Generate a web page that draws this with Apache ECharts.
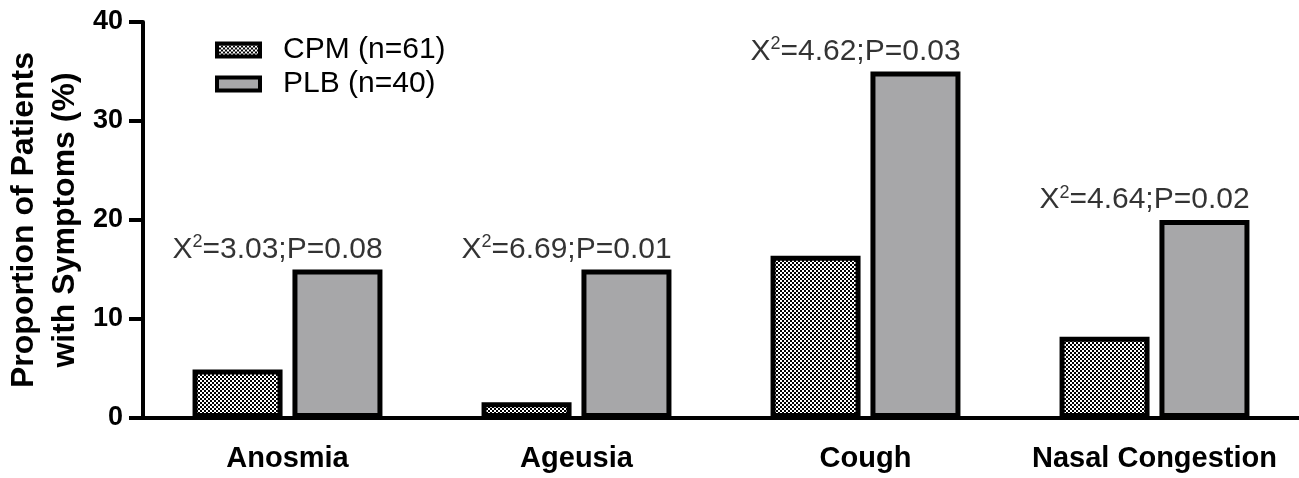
<!DOCTYPE html>
<html>
<head>
<meta charset="utf-8">
<script src="https://cdn.jsdelivr.net/npm/echarts@6/dist/echarts.min.js"></script>
<style>
html,body{margin:0;padding:0;background:#fff;}
#chart{width:1299px;height:478px;}
</style>
</head>
<body>
<div id="chart"></div>
<script>
var categories = ['Anosmia', 'Ageusia', 'Cough', 'Nasal Congestion'];
var cpmValues = [4.9, 1.6, 16.4, 8.2];
var plbValues = [15, 15, 35, 20];
var chiSq = ['3.03', '6.69', '4.62', '4.64'];
var pVals = ['0.08', '0.01', '0.03', '0.02'];
var seriesNames = ['CPM (n=61)', 'PLB (n=40)'];
var yTicks = [0, 10, 20, 30, 40];

var FONT = '"Liberation Sans", Arial, Helvetica, sans-serif';

// checkered pattern
var pc = document.createElement('canvas');
pc.width = 4; pc.height = 4;
var pctx = pc.getContext('2d');
pctx.fillStyle = '#000'; pctx.fillRect(0, 0, 4, 4);
pctx.fillStyle = '#fff';
pctx.fillRect(0, 0, 2, 2);
pctx.fillRect(2, 2, 2, 2);
var checker = { image: pc, repeat: 'repeat' };

var annotY = categories.map(function (c, i) { return Math.max(cpmValues[i], plbValues[i]); });

var chart = echarts.init(document.getElementById('chart'), null, { renderer: 'canvas' });
chart.setOption({
  animation: false,
  backgroundColor: '#fff',
  textStyle: { fontFamily: FONT },
  grid: { left: 143, right: 0, top: 22, bottom: 60, containLabel: false, outerBoundsMode: 'none' },
  legend: {
    orient: 'vertical',
    left: 210, top: 30,
    icon: 'rect',
    itemWidth: 43, itemHeight: 13,
    itemGap: 4,
    data: seriesNames,
    textStyle: { fontFamily: FONT, fontSize: 30, color: '#000', padding: [0, 0, 0, 18] },
    itemStyle: { borderWidth: 4, borderColor: '#000' }
  },
  xAxis: {
    type: 'category',
    data: categories,
    axisLine: { lineStyle: { color: '#000', width: 4 } },
    axisTick: { alignWithLabel: true, length: 13, lineStyle: { color: '#000', width: 4 } },
    axisLabel: { interval: 0, fontFamily: FONT, fontSize: 29, fontWeight: 'bold', color: '#000', margin: 26 }
  },
  yAxis: {
    type: 'value',
    min: 0, max: 40, interval: 10,
    name: 'Proportion of Patients\nwith Symptoms (%)',
    nameLocation: 'middle',
    nameRotate: 90,
    nameGap: 57,
    nameMoveOverlap: false,
    nameTextStyle: { fontFamily: FONT, fontSize: 32, fontWeight: 'bold', color: '#000', lineHeight: 41 },
    splitLine: { show: false },
    axisLine: { show: true, lineStyle: { color: '#000', width: 4 } },
    axisTick: { show: true, length: 14, lineStyle: { color: '#000', width: 4 } },
    axisLabel: { align: 'right', verticalAlign: 'middle', fontFamily: FONT, fontSize: 27, fontWeight: 'bold', color: '#000', margin: 20,
      formatter: function (v) { return yTicks.indexOf(v) >= 0 ? String(v) : ''; } }
  },
  series: [
    {
      name: seriesNames[0], type: 'bar', data: cpmValues,
      barWidth: 90, barGap: '11%',
      itemStyle: { color: checker, borderColor: '#000', borderWidth: 5 }
    },
    {
      name: seriesNames[1], type: 'bar', data: plbValues,
      barWidth: 90,
      itemStyle: { color: '#a7a7a9', borderColor: '#000', borderWidth: 5 }
    },
    {
      name: 'annot', type: 'scatter', symbolSize: 0, silent: true,
      data: categories.map(function (c, i) { return [c, annotY[i]]; }),
      label: {
        show: true, position: 'top', distance: 4, offset: [-10, 0], color: '#000',
        formatter: function (p) {
          var i = p.dataIndex;
          return '{t|X}{s|2}{t|=' + chiSq[i] + ';P=' + pVals[i] + '}';
        },
        rich: {
          t: { fontFamily: FONT, fontSize: 30, color: '#000', lineHeight: 32 },
          s: { fontFamily: FONT, fontSize: 18, color: '#000', verticalAlign: 'top', lineHeight: 32, padding: [0, 0, 14, 0] }
        }
      }
    }
  ]
});
</script>
</body>
</html>
